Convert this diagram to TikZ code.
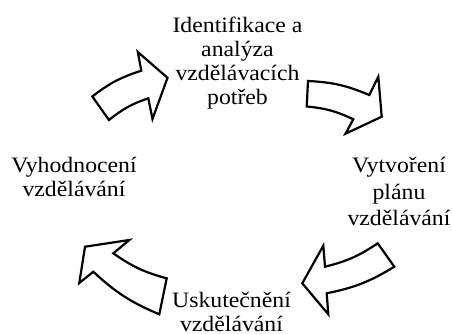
\documentclass[tikz,border=0pt]{standalone}
\usepackage{fontspec}
\setmainfont{Liberation Serif}[FakeStretch=1.08]
\begin{document}
\begin{tikzpicture}[x=1pt,y=1pt,
  lbl/.style={anchor=north,inner sep=0pt,align=center,font=\fontsize{22}{24}\selectfont},
  blockarrow/.style={draw=black,fill=white,line width=2.2pt,line join=miter}]
\useasboundingbox (0,0) rectangle (452,333);
% text labels
\node[lbl] (ident) at (237.5,316.3) {Identifikace a\\analýza\\vzdělávacích\\potřeb};
\node[lbl,font=\fontsize{22}{26.5}\selectfont] (plan) at (399,175.7) {Vytvoření\\plánu\\vzdělávání};
\node[lbl] (usk) at (231.5,41.3) {Uskutečnění\\vzdělávání};
\node[lbl] (vyh) at (74,175.7) {Vyhodnocení\\vzdělávání};
% arrow 1 (top-left)
\draw[blockarrow] (92.3,236.5) -- (109,213) to[bend left=10] (148.3,234.7) -- (152.5,214)
  -- (167.5,255.2) -- (137.8,281) -- (141.3,262.3) to[bend right=10] cycle;
% arrow 2 (top-right)
\draw[blockarrow] (308,252) -- (306.7,226.5) to[bend left=10] (353.3,213.7) -- (345.5,199.3)
  -- (381.7,216.3) -- (378.3,256.3) -- (369.3,238) to[bend right=10] cycle;
% arrow 3 (bottom-right)
\draw[blockarrow] (302.3,49.7) -- (323.3,87.3) -- (325,66.3) to[bend right=10] (377.7,89.7)
  -- (394.3,66.3) to[bend left=10] (326.7,39.7) -- (328.3,18.7) -- cycle;
% arrow 4 (bottom-left)
\draw[blockarrow] (85,86.3) -- (129.3,93) -- (113.3,79.7) to[bend right=10] (166.7,54.7)
  -- (159.3,18.7) to[bend left=10] (93.3,61.3) -- (79.3,50) -- cycle;
\end{tikzpicture}
\end{document}
